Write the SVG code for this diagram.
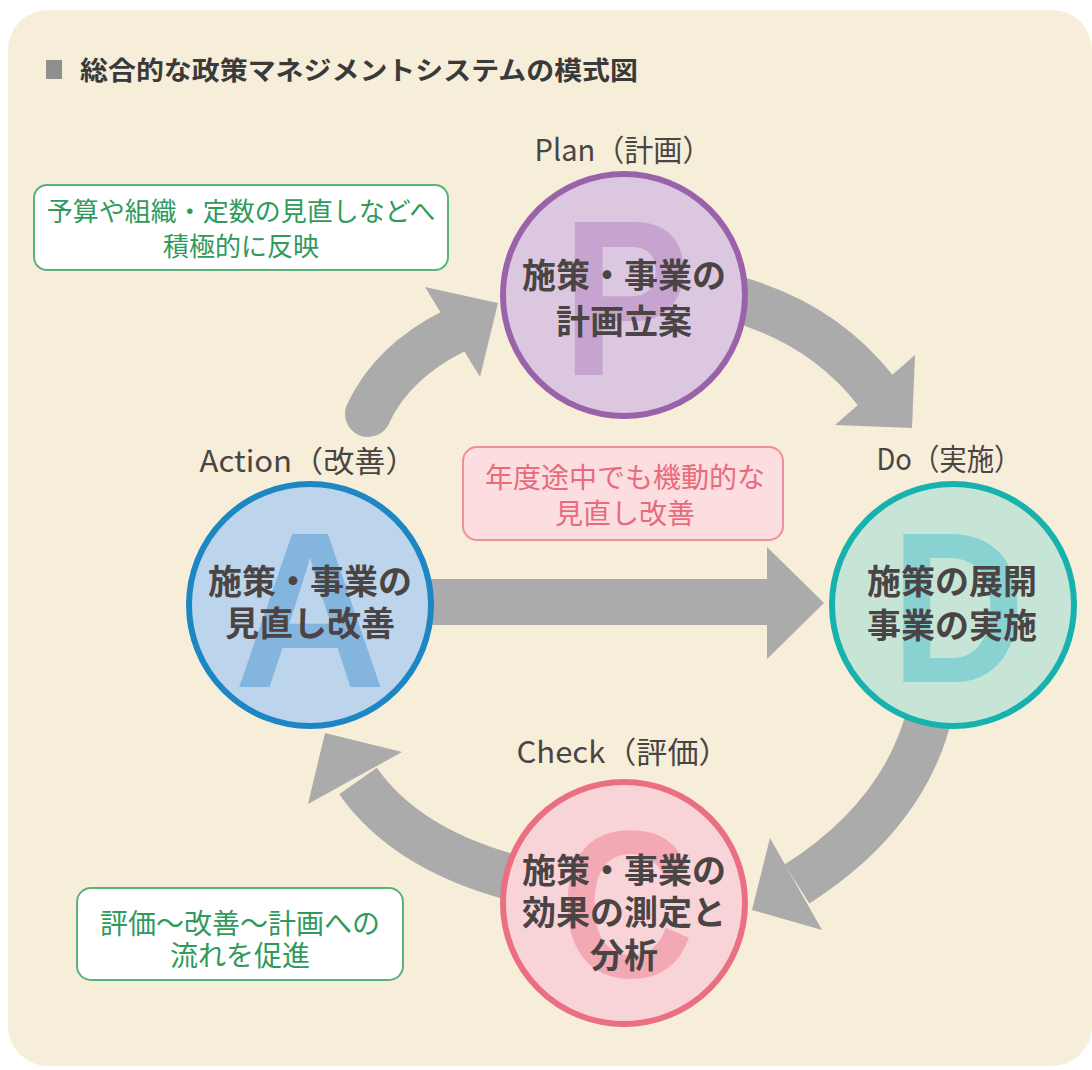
<svg xmlns="http://www.w3.org/2000/svg" width="1092" height="1070" viewBox="0 0 1092 1070">
<style>
.jp{font-family:"Noto Sans CJK JP","Noto Sans",sans-serif}
.lbl{font-size:30px;fill:#4a4545;text-anchor:middle}
.main{font-size:34px;font-weight:700;fill:#4a4444;text-anchor:middle}
.big{font-family:"Liberation Sans",Arial,sans-serif;font-weight:700;text-anchor:middle}
.shaft{fill:none;stroke:#acabab;stroke-width:46}
.head{fill:#acabab}
.gbox{fill:#ffffff;stroke:#5cb27c;stroke-width:2}
.gtxt{fill:#2f9a5c;text-anchor:middle}
</style>
<rect x="0" y="0" width="1092" height="1070" fill="#ffffff"/>
<rect x="8" y="10" width="1084" height="1056" rx="40" ry="40" fill="#f6eed8"/>
<g id="title">
<rect x="46" y="60" width="16" height="19" fill="#8f8f8f"/>
<text class="jp" x="80" y="80" font-size="26" font-weight="700" fill="#3a3a3a" textLength="558" lengthAdjust="spacingAndGlyphs">総合的な政策マネジメントシステムの模式図</text>
</g>
<g id="connectors">
<path class="shaft" stroke-linecap="round" d="M 368 414 Q 392 362 454 331"/>
<polygon class="head" points="498,303 425,287 480,377"/>
<path class="shaft" d="M 732 298 Q 822 322 876 391"/>
<polygon class="head" points="912,428 915,355 835,425"/>
<path class="shaft" d="M 930 712 Q 905 815 797 884"/>
<polygon class="head" points="752,910 770,838 822,930"/>
<path class="shaft" d="M 522 880 Q 408 852 358 781"/>
<polygon class="head" points="325,733 402,752 308,804"/>
<rect x="420" y="579" width="350" height="46" fill="#acabab"/>
<polygon class="head" points="824,603 767,547 767,659"/>
</g>
<g id="plan">
<text class="jp lbl" x="623" y="161" textLength="177" lengthAdjust="spacingAndGlyphs">Plan（計画）</text>
<circle cx="624" cy="295" r="121" fill="#dcc7e0" stroke="#9a63a9" stroke-width="6"/>
<text class="big" x="626" y="375" font-size="222" fill="#c7a4cf" textLength="128" lengthAdjust="spacingAndGlyphs">P</text>
<text class="jp main" x="624" y="288">施策・事業の</text>
<text class="jp main" x="624" y="334">計画立案</text>
</g>
<g id="do">
<text class="jp lbl" x="949" y="470" textLength="145" lengthAdjust="spacingAndGlyphs">Do（実施）</text>
<circle cx="953" cy="605" r="121" fill="#c6e5d6" stroke="#17b1ae" stroke-width="6"/>
<text class="big" x="958" y="682" font-size="216" fill="#88d2d1" textLength="134" lengthAdjust="spacingAndGlyphs">D</text>
<text class="jp main" x="952" y="594" font-size="35">施策の展開</text>
<text class="jp main" x="952" y="638" font-size="35">事業の実施</text>
</g>
<g id="check">
<text class="jp lbl" x="623" y="763" textLength="213" lengthAdjust="spacingAndGlyphs">Check（評価）</text>
<circle cx="624" cy="903" r="121" fill="#f8d4d9" stroke="#ea6f81" stroke-width="6"/>
<text class="big" x="627" y="977" font-size="210" fill="#f3a9b4" textLength="134" lengthAdjust="spacingAndGlyphs">C</text>
<text class="jp main" x="624" y="883">施策・事業の</text>
<text class="jp main" x="624" y="925">効果の測定と</text>
<text class="jp main" x="624" y="968">分析</text>
</g>
<g id="action">
<text class="jp lbl" x="308" y="472" textLength="217" lengthAdjust="spacingAndGlyphs">Action（改善）</text>
<circle cx="310" cy="605" r="121" fill="#bdd5ec" stroke="#1d87c3" stroke-width="6"/>
<text class="big" x="310" y="687" font-size="222" fill="#84b5df" textLength="152" lengthAdjust="spacingAndGlyphs">A</text>
<text class="jp main" x="310" y="594">施策・事業の</text>
<text class="jp main" x="310" y="636">見直し改善</text>
</g>
<g id="note-budget">
<rect class="gbox" x="34" y="185" width="414" height="85" rx="13" ry="13"/>
<text class="jp gtxt" x="241" y="221" font-size="26">予算や組織・定数の見直しなどへ</text>
<text class="jp gtxt" x="241" y="256" font-size="26">積極的に反映</text>
</g>
<g id="note-flow">
<rect class="gbox" x="77" y="888" width="326" height="92" rx="14" ry="14"/>
<text class="jp gtxt" x="240" y="934" font-size="28">評価〜改善〜計画への</text>
<text class="jp gtxt" x="240" y="966" font-size="28">流れを促進</text>
</g>
<g id="note-midyear">
<rect x="463" y="447" width="320" height="93" rx="14" ry="14" fill="#fcdde0" stroke="#ef8e9c" stroke-width="2"/>
<text class="jp" x="625" y="488" font-size="28" fill="#e86b7b" text-anchor="middle">年度途中でも機動的な</text>
<text class="jp" x="625" y="524" font-size="28" fill="#e86b7b" text-anchor="middle">見直し改善</text>
</g>
</svg>
